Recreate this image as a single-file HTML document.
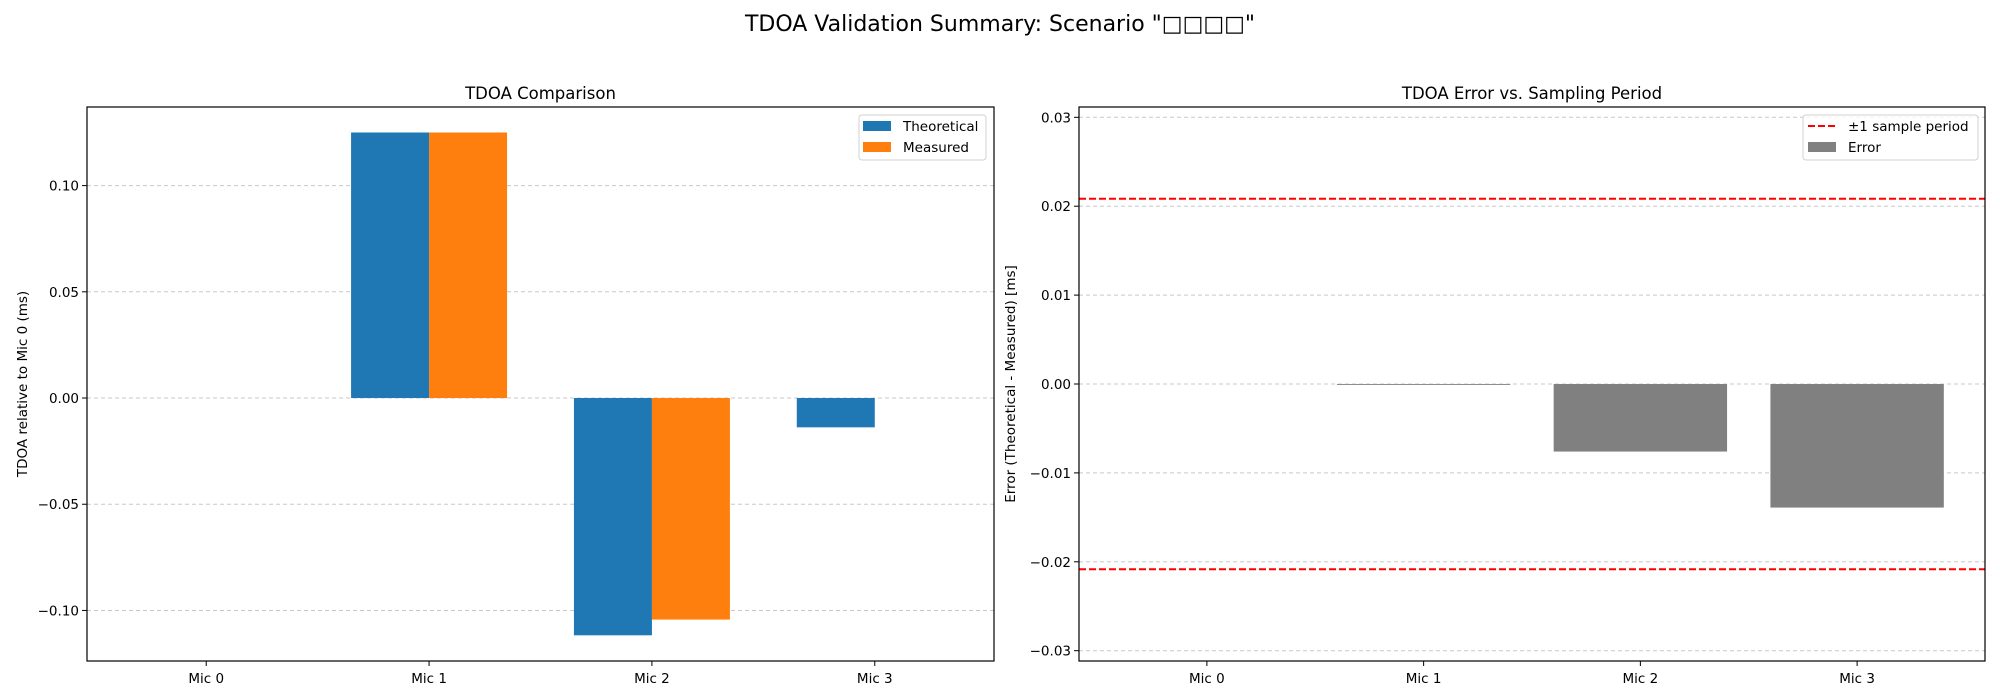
<!DOCTYPE html>
<html><head><meta charset="utf-8"><style>
body{margin:0;background:#fff;}
svg{display:block;font-family:"DejaVu Sans","Liberation Sans","Noto Sans CJK SC",sans-serif;}
</style></head><body>
<svg id="c" width="2000" height="700" viewBox="0 0 2000 700" xmlns="http://www.w3.org/2000/svg">
<text x="1000" y="31" text-anchor="middle" font-size="22">TDOA Validation Summary: Scenario "□□□□"</text>
<g id="left"></g>
<g id="right"></g>
</svg>
<script>
const categories = ["Mic 0","Mic 1","Mic 2","Mic 3"];
const theoretical = [0, 0.125, -0.1117, -0.0138];
const measured = [0, 0.125, -0.1043, 0];
const errors = [0, -0.0001, -0.0076, -0.0139];
const samplePeriod = 0.020833;
const leftTicks = [-0.10,-0.05,0.00,0.05,0.10];
const leftTickLabels = ["\u22120.10","\u22120.05","0.00","0.05","0.10"];
const rightTicks = [-0.03,-0.02,-0.01,0,0.01,0.02,0.03];
const rightTickLabels = ["\u22120.03","\u22120.02","\u22120.01","0.00","0.01","0.02","0.03"];

const NS="http://www.w3.org/2000/svg";
function mk(parent,tag,attrs,text){const e=document.createElementNS(NS,tag);for(const k in attrs)e.setAttribute(k,attrs[k]);if(text!==undefined)e.textContent=text;parent.appendChild(e);return e;}

function axes(g,x0,x1,y0,y1,xmin,xmax,ymin,ymax,ticks,labels,title,ylabel){
  const sx=v=>x0+(v-xmin)/(xmax-xmin)*(x1-x0);
  const sy=v=>y1-(v-ymin)/(ymax-ymin)*(y1-y0);
  ticks.forEach((t,i)=>{
    const y=sy(t);
    const gl=mk(g,'line',{x1:x0,x2:x1,y1:y,y2:y,stroke:'#b0b0b0','stroke-width':1,'stroke-dasharray':'4,3','stroke-opacity':0.7});
    
    
    const tk=mk(g,'line',{x1:x0-5,x2:x0,y1:y,y2:y,stroke:'#000','stroke-width':1});
    
    
    const tl=mk(g,'text',{x:x0-8,y:y+5,'text-anchor':'end','font-size':13.5},labels[i]);
    
    
  });
  categories.forEach((c,i)=>{
    const x=sx(i);
    const tk=mk(g,'line',{x1:x,x2:x,y1:y1,y2:y1+5,stroke:'#000','stroke-width':1});
    
    
    const tl=mk(g,'text',{x:x,y:y1+22,'text-anchor':'middle','font-size':13.5},c);
    
    
  });
  const t=mk(g,'text',{x:(x0+x1)/2,y:y0-8,'text-anchor':'middle','font-size':16.5},title);
  
  
  const yl=mk(g,'text',{x:0,y:0,'text-anchor':'middle','font-size':13.5,transform:`translate(${x0-(x0>500?64:60)},${(y0+y1)/2}) rotate(-90)`},ylabel);
  
  
  return {sx,sy};
}
function frame(g,x0,x1,y0,y1){
  const r=mk(g,'rect',{x:x0,y:y0,width:x1-x0,height:y1-y0,fill:'none',stroke:'#000','stroke-width':1.2});
  
  
}

// Left chart
const L=document.getElementById('left');
const lx0=87,lx1=994,ly0=107,ly1=661;
const la=axes(L,lx0,lx1,ly0,ly1,-0.535,3.535,-0.1238,0.137,leftTicks,leftTickLabels,'TDOA Comparison','TDOA relative to Mic 0 (ms)');
const w=0.35;
[[theoretical,'#1f77b4',-w/2,'theoretical'],[measured,'#ff7f0e',w/2,'measured']].forEach(([arr,col,off,nm])=>{
  arr.forEach((v,i)=>{
    const xa=la.sx(i+off-w/2), xb=la.sx(i+off+w/2);
    const ya=la.sy(Math.max(v,0)), yb=la.sy(Math.min(v,0));
    const b=mk(L,'rect',{x:xa,y:ya,width:xb-xa,height:Math.max(yb-ya,0),fill:col});
    
    
  });
});
frame(L,lx0,lx1,ly0,ly1);
const lg=mk(L,'g',{});


mk(lg,'rect',{x:859,y:115,width:127,height:45,rx:3,fill:'#fff','fill-opacity':0.8,stroke:'#d0d0d0'});
mk(lg,'rect',{x:863,y:121,width:28,height:10,fill:'#1f77b4'});
mk(lg,'text',{x:903,y:131,'font-size':13.5},'Theoretical');
mk(lg,'rect',{x:863,y:142,width:28,height:10,fill:'#ff7f0e'});
mk(lg,'text',{x:903,y:152,'font-size':13.5},'Measured');

// Right chart
const R=document.getElementById('right');
const rx0=1079,rx1=1985,ry0=107,ry1=661;
const ra=axes(R,rx0,rx1,ry0,ry1,-0.59,3.59,-0.03116,0.03116,rightTicks,rightTickLabels,'TDOA Error vs. Sampling Period','Error (Theoretical - Measured) [ms]');
errors.forEach((v,i)=>{
  const xa=ra.sx(i-0.4), xb=ra.sx(i+0.4);
  const ya=ra.sy(Math.max(v,0)), yb=ra.sy(Math.min(v,0));
  const h=v===0?0:Math.max(yb-ya,0.6);
  const b=mk(R,'rect',{x:xa,y:ya,width:xb-xa,height:h,fill:'#808080'});
  
  
});
[samplePeriod,-samplePeriod].forEach((v,i)=>{
  const y=ra.sy(v);
  const l=mk(R,'line',{x1:rx0,x2:rx1,y1:y,y2:y,stroke:'#ff0000','stroke-width':2,'stroke-dasharray':'7,3'});
  
  
});
frame(R,rx0,rx1,ry0,ry1);
const rg=mk(R,'g',{});


mk(rg,'rect',{x:1803,y:115,width:175,height:45,rx:3,fill:'#fff','fill-opacity':0.8,stroke:'#d0d0d0'});
mk(rg,'line',{x1:1808,x2:1836,y1:126,y2:126,stroke:'#ff0000','stroke-width':2,'stroke-dasharray':'7,3'});
mk(rg,'text',{x:1848,y:131,'font-size':13.5},'\u00b11 sample period');
mk(rg,'rect',{x:1808,y:142,width:28,height:10,fill:'#808080'});
mk(rg,'text',{x:1848,y:152,'font-size':13.5},'Error');
</script>
</body></html>
